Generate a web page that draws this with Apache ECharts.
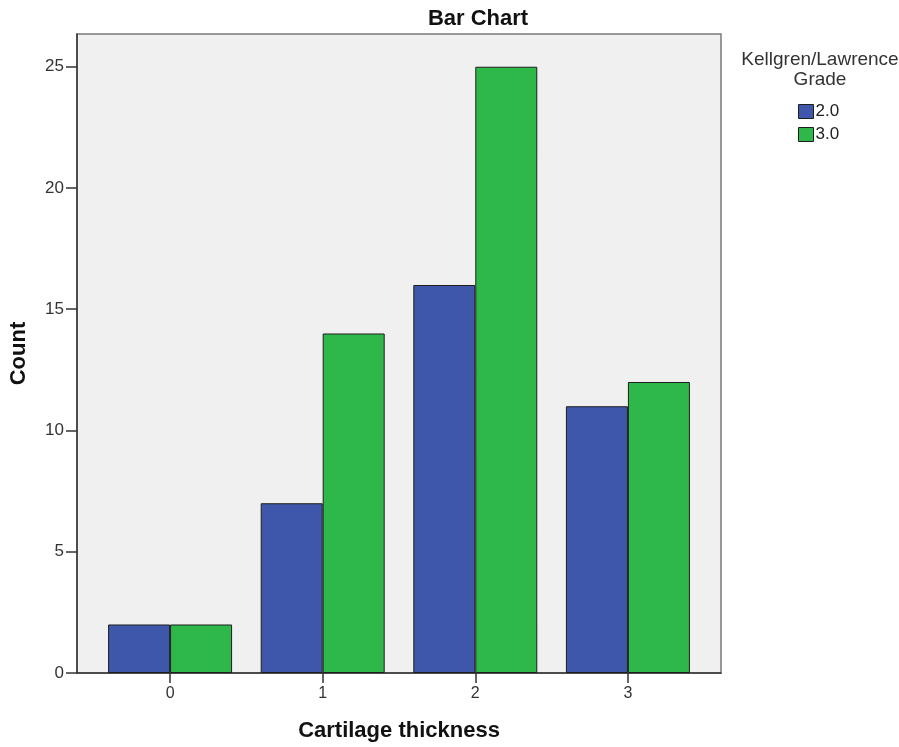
<!DOCTYPE html>
<html>
<head>
<meta charset="utf-8">
<title>Bar Chart</title>
<script src="https://cdn.jsdelivr.net/npm/echarts@6/dist/echarts.min.js"></script>
<style>
  html, body { margin: 0; padding: 0; background: #ffffff; }
  #chart { width: 899px; height: 747px; }
</style>
</head>
<body>
<div id="chart"></div>
<script>
// Cartilage thickness categories and counts per Kellgren/Lawrence grade
const categories = [0, 1, 2, 3];
const categoryLabels = ['0', '1', '2', '3'];
const grade2Counts = [2, 7, 16, 11];
const grade3Counts = [2, 14, 25, 12];
const seriesNames = ['2.0', '3.0'];
const yTicks = [0, 5, 10, 15, 20, 25];

const FONT = '"Liberation Sans", Arial, Helvetica, sans-serif';

const chart = echarts.init(document.getElementById('chart'), null, { renderer: 'canvas' });

function pairs(values) {
  return categories.map((c, i) => [c, values[i]]);
}

const barBorder = { borderColor: '#1e1e1e', borderWidth: 1 };

chart.setOption({
  backgroundColor: '#ffffff',
  animation: false,
  title: [
    {
      text: 'Bar Chart',
      left: 473,
      top: 3,
      textAlign: 'center',
      textStyle: { fontFamily: FONT, fontSize: 22, fontWeight: 'bold', color: '#111' }
    },
    {
      text: 'Kellgren/Lawrence\nGrade',
      left: 815,
      top: 45,
      textAlign: 'center',
      textStyle: { fontFamily: FONT, fontSize: 19, fontWeight: 'normal', color: '#333', lineHeight: 20 }
    }
  ],
  legend: {
    orient: 'vertical',
    left: 793,
    top: 98,
    itemWidth: 15,
    itemHeight: 14,
    itemGap: 6,
    icon: 'rect',
    selectedMode: false,
    itemStyle: { borderColor: '#1e1e1e', borderWidth: 1 },
    textStyle: { fontFamily: FONT, fontSize: 17, color: '#222', padding: [0, 0, 0, -3] },
    data: seriesNames
  },
  grid: {
    left: 74,
    right: 178,
    top: 34,
    bottom: 71,
    show: true,
    backgroundColor: '#f0f0f0',
    borderColor: '#7a7a7a',
    borderWidth: 1.5,
    containLabel: false
  },
  xAxis: {
    type: 'value',
    min: -0.61,
    max: 3.61,
    name: 'Cartilage thickness',
    nameLocation: 'middle',
    nameGap: 47,
    nameTextStyle: { fontFamily: FONT, fontSize: 22, fontWeight: 'bold', color: '#111' },
    axisLine: { show: true, onZero: false, lineStyle: { color: '#333', width: 1.5 } },
    axisTick: { show: true, length: 10, customValues: categories, lineStyle: { color: '#333', width: 1.5 } },
    axisLabel: {
      customValues: categories,
      margin: 13,
      fontFamily: FONT,
      fontSize: 16,
      color: '#333',
      formatter: v => categoryLabels[categories.indexOf(Math.round(v))] ?? ''
    },
    splitLine: { show: false }
  },
  yAxis: {
    type: 'value',
    min: 0,
    max: 26.35,
    name: 'Count',
    nameLocation: 'middle',
    nameGap: 47,
    nameTextStyle: { fontFamily: FONT, fontSize: 22, fontWeight: 'bold', color: '#111' },
    axisLine: { show: true, onZero: false, lineStyle: { color: '#333', width: 1.5 } },
    axisTick: { show: true, length: 11, customValues: yTicks, lineStyle: { color: '#333', width: 1.5 } },
    axisLabel: {
      customValues: yTicks,
      margin: 13,
      fontFamily: FONT,
      fontSize: 17,
      color: '#333'
    },
    splitLine: { show: false }
  },
  series: [
    {
      name: seriesNames[0],
      type: 'bar',
      barWidth: 62,
      barGap: '0%',
      itemStyle: Object.assign({ color: '#3e57aa' }, barBorder),
      data: pairs(grade2Counts)
    },
    {
      name: seriesNames[1],
      type: 'bar',
      barWidth: 62,
      barGap: '0%',
      itemStyle: Object.assign({ color: '#2fb84a' }, barBorder),
      data: pairs(grade3Counts)
    }
  ]
});
</script>
</body>
</html>
